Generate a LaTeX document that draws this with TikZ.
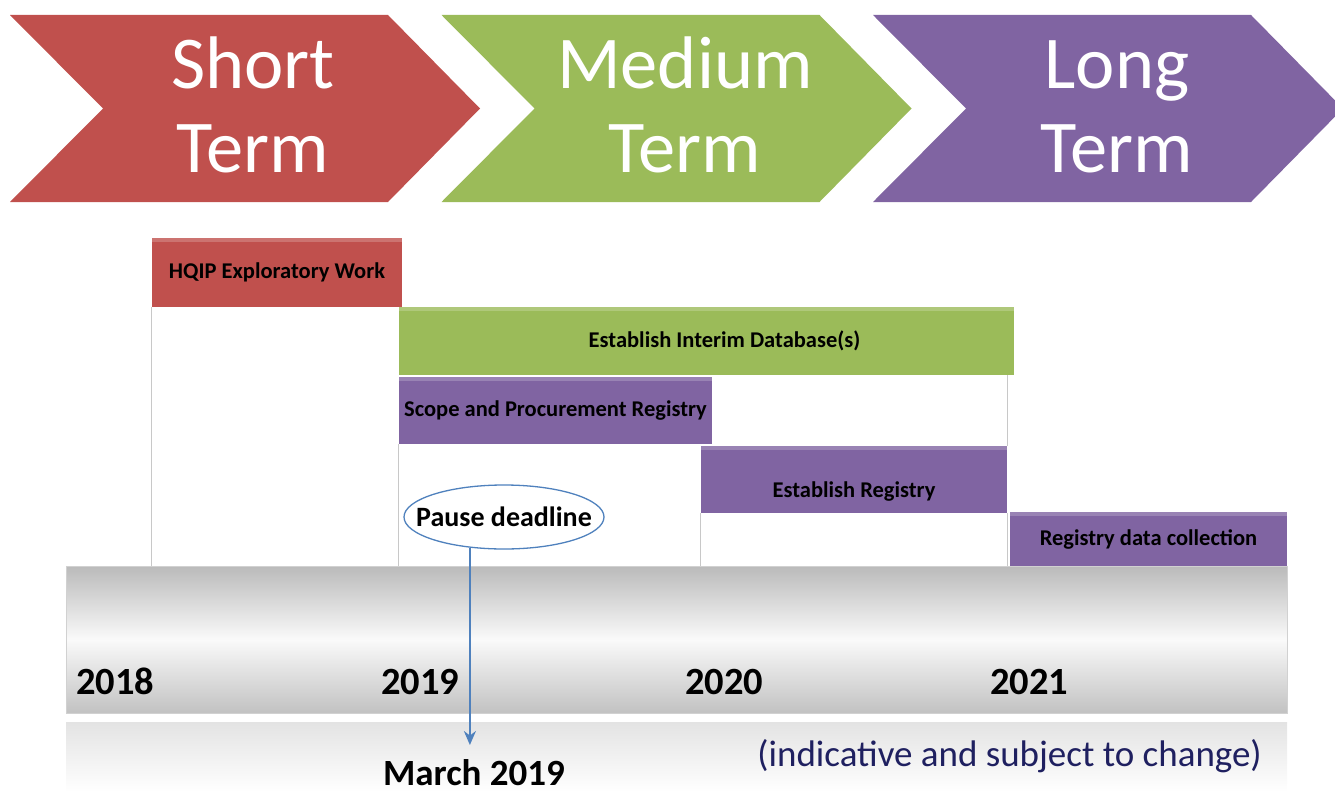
\documentclass[tikz,border=0pt]{standalone}
\usepackage{fontspec}
\setmainfont{Carlito}
\usetikzlibrary{arrows.meta,shapes.geometric}
\definecolor{redc}{HTML}{C0504D}
\definecolor{greenc}{HTML}{9BBB59}
\definecolor{purplec}{HTML}{8064A2}
\definecolor{bluec}{HTML}{4F81BD}
\definecolor{navyc}{HTML}{1F2060}
\definecolor{vlinec}{HTML}{C8C8C8}
\newcommand\gbfont{\bfseries\fontsize{22.5}{26}\selectfont}
\tikzset{
  chevtext/.style={text=white, align=center, inner sep=0pt,
    font=\fontsize{74.5}{84}\selectfont},
  gbar/.style={fill=#1, draw=none, inner sep=0pt, text=black, font=\gbfont,
    path picture={\fill[white,opacity=0.2] (path picture bounding box.north west)
      rectangle ([yshift=-4pt]path picture bounding box.north east);}},
  vl/.style={draw=vlinec, line width=0.8pt},
  yeartext/.style={anchor=base west, inner sep=0pt, text=black,
    font=\bfseries\fontsize{38.5}{42}\selectfont},
}
\begin{document}
\begin{tikzpicture}[x=1pt,y=-1pt]
\useasboundingbox (0,0) rectangle (1335,792);
\clip (0,0) rectangle (1335,792);

% chevrons
\fill[redc] (10,15) -- (388,15) -- (480,108.5) -- (388,202) -- (10,202) -- (103,108.5) -- cycle;
\fill[greenc] (441.5,15) -- (819.5,15) -- (911.5,108.5) -- (819.5,202) -- (441.5,202) -- (534.5,108.5) -- cycle;
\fill[purplec] (873,15) -- (1251,15) -- (1343,108.5) -- (1251,202) -- (873,202) -- (966,108.5) -- cycle;
\node[chevtext, anchor=base] (st) at (253,172) {Short\\Term};
\node[chevtext, anchor=base] (mt) at (685,172) {Medium\\Term};
\node[chevtext, anchor=base] (lt) at (1117,172) {Long\\Term};

% timeline bar and its reflection
\node[draw=black!18, top color=black!27, bottom color=black!24, middle color=black!2,
      minimum width=1221pt, minimum height=147pt, inner sep=0pt] (tl) at (676.5,639.5) {};
\node[top color=black!11, bottom color=white, draw=none,
      minimum width=1221pt, minimum height=70pt, inner sep=0pt] (rf) at (676.5,757) {};

% gantt bars
\node[gbar=redc, minimum width=250pt, minimum height=69pt] (hqip) at (277,272.5) {HQIP Exploratory Work};
\node[gbar=greenc, minimum width=615pt, minimum height=68pt] (eid) at (706.5,341) {\hspace*{36pt}Establish Interim Database(s)};
\node[gbar=purplec, minimum width=313pt, minimum height=67pt] (spr) at (555.5,410.5) {Scope and Procurement Registry};
\node[gbar=purplec, minimum width=306pt, minimum height=67pt,
      label={[font=\gbfont, text=black, yshift=-12pt]center:Establish Registry}] (er) at (854,479.5) {};
\node[gbar=purplec, minimum width=277pt, minimum height=54pt] (rdc) at (1148.5,539) {Registry data collection};

% thin vertical guide lines
\draw[vl] (hqip.south west) -- (hqip.south west |- tl.north);
\draw[vl] (spr.south west) -- (spr.south west |- tl.north);
\draw[vl] (er.south west) -- (er.south west |- tl.north);
\draw[vl] (er.north east) -- (er.north east |- eid.south);
\draw[vl] (er.south east) -- (er.south east |- tl.north);

% years
\node[yeartext] (y18) at (76,694) {2018};
\node[yeartext] (y19) at (381,694) {2019};
\node[yeartext] (y20) at (685,694) {2020};
\node[yeartext] (y21) at (990,694) {2021};

% pause deadline
\node[ellipse, draw=bluec, line width=1.3pt, fill=white, minimum width=200pt,
      minimum height=64pt, inner sep=0pt,
      label={[font=\bfseries\fontsize{28}{30}\selectfont, text=black]center:Pause deadline}] (pd) at (504,517) {};
\coordinate (ae) at (472,745);
\draw[bluec, line width=2pt, -{Stealth[length=14pt,width=12pt]}] (pd.222) -- (pd.222 |- ae);
\node[anchor=base, inner sep=0pt, font=\bfseries\fontsize{37}{40}\selectfont] (mar) at (474,785) {March 2019};

\node[anchor=base east, inner sep=0pt, text=navyc, font=\fontsize{37}{40}\selectfont] (ind) at (1262,766) {(indicative and subject to change)};
\end{tikzpicture}
\end{document}
